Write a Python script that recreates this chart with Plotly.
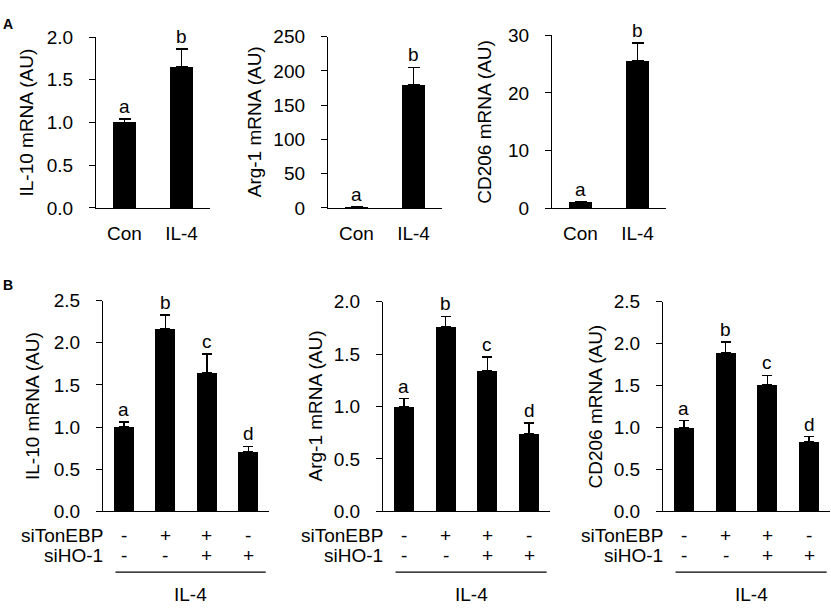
import plotly.graph_objects as go

# ---------------- data ----------------
A_CATEGORIES = ["Con", "IL-4"]
A_IL10 = [1.0, 1.65]
A_IL10_ERR = [0.04, 0.21]
A_IL10_LETTERS = ["a", "b"]
A_ARG1 = [1.0, 180.0]
A_ARG1_ERR = [0.3, 25.0]
A_ARG1_LETTERS = ["a", "b"]
A_CD206 = [1.1, 25.5]
A_CD206_ERR = [0.1, 3.1]
A_CD206_LETTERS = ["a", "b"]

B_SITONEBP = ["-", "+", "+", "-"]
B_SIHO1 = ["-", "-", "+", "+"]
B_IL10 = [1.0, 2.17, 1.65, 0.71]
B_IL10_ERR = [0.06, 0.16, 0.22, 0.06]
B_ARG1 = [1.0, 1.76, 1.34, 0.74]
B_ARG1_ERR = [0.075, 0.10, 0.13, 0.10]
B_CD206 = [1.0, 1.89, 1.51, 0.83]
B_CD206_ERR = [0.08, 0.13, 0.11, 0.06]
B_LETTERS = ["a", "b", "c", "d"]

# ---------------- layout helpers ----------------
W, H = 831, 614
FONT = "Liberation Sans, Arial, sans-serif"
FS = 19


def fx(px):
    return px / W


def fy(py):
    return 1 - py / H


panels = [
    dict(x=(96, 210), y=(28, 205), v=A_IL10, e=A_IL10_ERR, l=A_IL10_LETTERS,
         yr=[0, 2.0], dt=0.5, fmt=".1f", title="IL-10 mRNA (AU)", tx=27, cats=A_CATEGORIES),
    dict(x=(328, 442), y=(27.5, 205), v=A_ARG1, e=A_ARG1_ERR, l=A_ARG1_LETTERS,
         yr=[0, 250], dt=50, fmt="d", title="Arg-1 mRNA (AU)", tx=254, cats=A_CATEGORIES),
    dict(x=(552, 666), y=(26, 205.5), v=A_CD206, e=A_CD206_ERR, l=A_CD206_LETTERS,
         yr=[0, 30], dt=10, fmt="d", title="CD206 mRNA (AU)", tx=485, cats=A_CATEGORIES),
    dict(x=(103, 269), y=(301, 519), v=B_IL10, e=B_IL10_ERR, l=B_LETTERS,
         yr=[0, 2.5], dt=0.5, fmt=".1f", title="IL-10 mRNA (AU)", tx=33, cats=None),
    dict(x=(383, 550), y=(302, 519), v=B_ARG1, e=B_ARG1_ERR, l=B_LETTERS,
         yr=[0, 2.0], dt=0.5, fmt=".1f", title="Arg-1 mRNA (AU)", tx=315, cats=None),
    dict(x=(663, 830), y=(302, 519), v=B_CD206, e=B_CD206_ERR, l=B_LETTERS,
         yr=[0, 2.5], dt=0.5, fmt=".1f", title="CD206 mRNA (AU)", tx=595, cats=None),
]

fig = go.Figure()
layout = dict(
    width=W, height=H, margin=dict(l=0, r=0, t=0, b=0),
    paper_bgcolor="white", plot_bgcolor="rgba(0,0,0,0)",
    showlegend=False, font=dict(family=FONT, size=FS, color="black"),
    bargap=0,
)
annotations = []
shapes = []

for i, p in enumerate(panels):
    n = i + 1
    xa = "x" if n == 1 else f"x{n}"
    ya = "y" if n == 1 else f"y{n}"
    ncat = len(p["v"])
    xs = list(range(ncat))
    bw = 0.42 if ncat == 2 else 0.48
    fig.add_trace(go.Bar(
        x=xs, y=p["v"], width=bw, xaxis=xa, yaxis=ya,
        marker=dict(color="black", line=dict(width=0)),
        error_y=dict(type="data", array=p["e"], arrayminus=[0] * ncat, symmetric=False,
                     color="black", thickness=1.5, width=5 if ncat == 4 else 6),
        hoverinfo="skip",
    ))
    xkey = "xaxis" if n == 1 else f"xaxis{n}"
    ykey = "yaxis" if n == 1 else f"yaxis{n}"
    xaxis = dict(
        domain=[fx(p["x"][0]), fx(p["x"][1])], anchor=ya,
        range=[-0.5, ncat - 0.5], showgrid=False, zeroline=False,
        showline=True, linecolor="black", linewidth=1.3, ticks="",
        fixedrange=True,
    )
    if p["cats"] is not None:
        xaxis.update(tickmode="array", tickvals=xs, ticktext=p["cats"],
                     ticklabelstandoff=8, tickfont=dict(size=FS))
    else:
        xaxis.update(showticklabels=False)
    layout[xkey] = xaxis
    layout[ykey] = dict(
        domain=[fy(p["y"][1]), fy(p["y"][0])], anchor=xa,
        range=p["yr"], dtick=p["dt"], tick0=0, tickformat=p["fmt"],
        showgrid=False, zeroline=False, showline=True, linecolor="black",
        linewidth=1.3, ticks="outside", ticklen=6, tickwidth=1.3, tickcolor="black",
        ticklabelstandoff=12, tickfont=dict(size=FS), fixedrange=True,
    )
    annotations.append(dict(
        text=p["title"], x=fx(p["tx"]), y=fy((p["y"][0] + p["y"][1]) / 2),
        xref="paper", yref="paper", textangle=-90, showarrow=False,
        xanchor="center", yanchor="middle", font=dict(size=FS),
    ))
    for k in range(ncat):
        annotations.append(dict(
            text=p["l"][k], x=xs[k], y=p["v"][k] + p["e"][k], xref=xa, yref=ya,
            showarrow=False, xanchor="center", yanchor="bottom", yshift=0,
            font=dict(size=FS),
        ))
    if p["cats"] is None:
        for row_lab, row_vals, ypx in (("siTonEBP", B_SITONEBP, 544), ("siHO-1", B_SIHO1, 565)):
            annotations.append(dict(
                text=row_lab, x=-0.45, y=fy(ypx), xref=xa, yref="paper",
                showarrow=False, xanchor="right", yanchor="middle", font=dict(size=FS),
            ))
            for k in range(ncat):
                annotations.append(dict(
                    text=row_vals[k], x=xs[k], y=fy(ypx), xref=xa, yref="paper",
                    showarrow=False, xanchor="center", yanchor="middle", font=dict(size=FS),
                ))
        shapes.append(dict(type="line", xref=xa, yref="paper", x0=-0.2, x1=3.42,
                           y0=fy(582), y1=fy(582), line=dict(color="black", width=1.2)))
        annotations.append(dict(
            text="IL-4", x=1.61, y=fy(605), xref=xa, yref="paper",
            showarrow=False, xanchor="center", yanchor="middle", font=dict(size=FS),
        ))

annotations.append(dict(text="<b>A</b>", x=fx(1), y=fy(4), xref="paper", yref="paper",
                        showarrow=False, xanchor="left", yanchor="top", font=dict(size=14)))
annotations.append(dict(text="<b>B</b>", x=fx(1), y=fy(274), xref="paper", yref="paper",
                        showarrow=False, xanchor="left", yanchor="top", font=dict(size=14)))

layout["annotations"] = annotations
layout["shapes"] = shapes
fig.update_layout(**layout)
fig.write_html("out.html", config=dict(displayModeBar=False),
               post_script="document.body.style.margin='0px';")
